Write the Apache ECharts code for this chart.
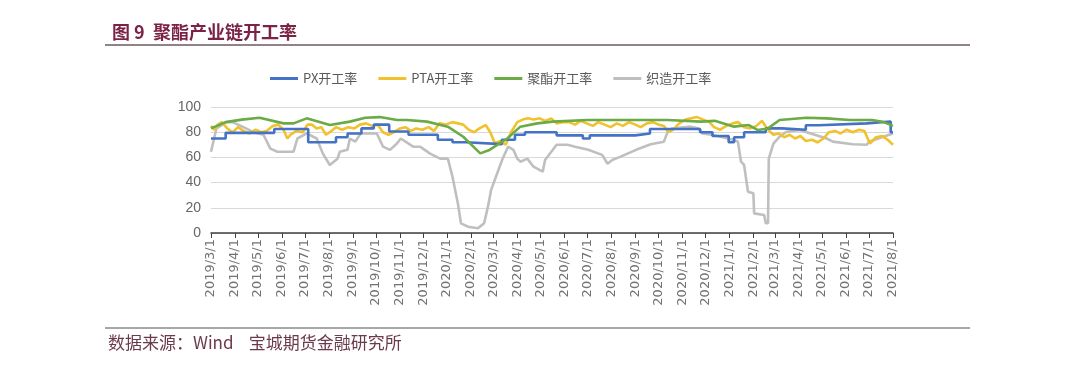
<!DOCTYPE html>
<html>
<head>
<meta charset="utf-8">
<script src="https://cdn.jsdelivr.net/npm/echarts@6/dist/echarts.min.js"></script>
<style>
html,body{margin:0;padding:0;background:#fff;}
#c{width:1068px;height:372px;}
</style>
</head>
<body>
<div id="c"></div>
<script>
// ---- data ----
const seriesNames = ['PX开工率', 'PTA开工率', '聚酯开工率', '织造开工率'];
const yTicks = [0, 20, 40, 60, 80, 100];
const xStart = '2019-03-01';
const xEnd = '2021-08-01';

// PX (step changes)
const pxDates = ['2019-03-01','2019-03-20','2019-05-22','2019-07-05','2019-08-10','2019-08-25','2019-09-12','2019-09-28','2019-10-18','2019-11-12','2019-12-20','2020-01-08','2020-01-25','2020-03-12','2020-03-29','2020-04-11','2020-05-22','2020-06-25','2020-07-04','2020-09-01','2020-09-20','2020-11-24','2020-12-10','2020-12-31','2021-01-07','2021-01-20','2021-02-17','2021-03-10','2021-04-10','2021-04-27','2021-06-28','2021-07-29','2021-08-01'];
const pxValues = [75,79.5,82.5,72,76,79,83,86,80.5,78,74,72,70.5,74,78,80,77.5,75,77.5,79,82.5,80,77,72,76,80,83,82,85.5,87,88.5,80,80];

// PTA
const ptaDates = ['2019-03-01','2019-03-05','2019-03-10','2019-03-15','2019-03-22','2019-03-29','2019-04-05','2019-04-12','2019-04-20','2019-04-28','2019-05-05','2019-05-12','2019-05-20','2019-05-27','2019-06-03','2019-06-08','2019-06-12','2019-06-20','2019-06-28','2019-07-04','2019-07-10','2019-07-16','2019-07-22','2019-07-28','2019-08-02','2019-08-10','2019-08-18','2019-08-26','2019-09-03','2019-09-10','2019-09-18','2019-09-26','2019-10-03','2019-10-10','2019-10-17','2019-10-24','2019-11-01','2019-11-08','2019-11-15','2019-11-22','2019-11-30','2019-12-08','2019-12-15','2019-12-22','2019-12-30','2020-01-08','2020-01-15','2020-01-22','2020-01-29','2020-02-05','2020-02-12','2020-02-20','2020-02-26','2020-03-03','2020-03-10','2020-03-17','2020-03-24','2020-04-01','2020-04-08','2020-04-15','2020-04-22','2020-04-30','2020-05-07','2020-05-15','2020-05-22','2020-05-30','2020-06-07','2020-06-15','2020-06-22','2020-06-30','2020-07-08','2020-07-15','2020-07-23','2020-07-31','2020-08-08','2020-08-16','2020-08-24','2020-09-01','2020-09-08','2020-09-16','2020-09-24','2020-10-01','2020-10-08','2020-10-14','2020-10-20','2020-10-28','2020-11-05','2020-11-12','2020-11-20','2020-11-28','2020-12-06','2020-12-12','2020-12-20','2020-12-28','2021-01-05','2021-01-12','2021-01-20','2021-01-28','2021-02-05','2021-02-12','2021-02-20','2021-02-27','2021-03-06','2021-03-13','2021-03-20','2021-03-27','2021-04-03','2021-04-10','2021-04-18','2021-04-25','2021-05-03','2021-05-10','2021-05-18','2021-05-25','2021-06-02','2021-06-10','2021-06-18','2021-06-25','2021-07-02','2021-07-10','2021-07-18','2021-07-25','2021-08-01'];
const ptaValues = [85,82,86,88,83,80,84,81,79,82,80,81,85,86,82,75,78,81,80,86,86,83,84,78,80,84,82,84,83,86,87,85,86,80,78,80,83,84,81,83,82,84,81,87,86,88,87,86,82,80,83,85.7,80,71,73,70,80,88,90,91,90,91,89,91,87,88,88,86,89,87,85,88,86,84,87,85,88,86,84,87,88,86,85,80,82,87,90,91,92,90,88,84,82,85,87,88,84,83,85,89,82,78,79,76,78,75,77,73,74,72,75,80,81,79,82,80,82,81,71,76,77,74,70];

// 聚酯
const polyDates = ['2019-03-01','2019-03-20','2019-04-10','2019-05-03','2019-06-03','2019-06-16','2019-07-03','2019-08-02','2019-08-28','2019-09-17','2019-10-06','2019-10-28','2019-11-10','2019-12-06','2020-01-02','2020-01-22','2020-02-13','2020-02-25','2020-03-19','2020-04-05','2020-04-27','2020-05-17','2020-07-01','2020-08-25','2020-10-13','2020-11-25','2020-12-13','2021-01-07','2021-01-26','2021-02-07','2021-02-20','2021-03-07','2021-04-11','2021-05-07','2021-06-06','2021-07-05','2021-07-20','2021-08-01'];
const polyValues = [83,88,90,91.5,87,87,91,85.7,88.4,91.5,92,89.7,89.7,88.4,84.4,76.4,63.2,65.9,75,84.4,87,88.4,89.7,89.7,89.7,88.4,89,84.4,85.7,81.7,83,89.7,91.5,91,89.7,89.7,88,85];

// 织造
const weaveDates = ['2019-03-01','2019-03-08','2019-03-21','2019-03-29','2019-04-12','2019-04-25','2019-05-08','2019-05-17','2019-05-26','2019-06-16','2019-06-21','2019-07-03','2019-07-16','2019-07-24','2019-08-02','2019-08-12','2019-08-15','2019-08-25','2019-08-28','2019-09-04','2019-09-11','2019-10-02','2019-10-10','2019-10-19','2019-10-28','2019-11-02','2019-11-18','2019-11-27','2019-12-10','2019-12-23','2020-01-02','2020-01-08','2020-01-15','2020-01-19','2020-01-28','2020-02-10','2020-02-18','2020-02-23','2020-02-27','2020-03-06','2020-03-13','2020-03-20','2020-03-27','2020-04-01','2020-04-05','2020-04-14','2020-04-22','2020-05-04','2020-05-07','2020-05-22','2020-06-05','2020-06-15','2020-07-02','2020-07-20','2020-07-27','2020-08-02','2020-08-13','2020-09-02','2020-09-21','2020-10-08','2020-10-13','2020-10-19','2020-11-12','2020-11-22','2020-11-27','2020-12-11','2020-12-30','2021-01-07','2021-01-12','2021-01-16','2021-01-20','2021-01-25','2021-02-01','2021-02-02','2021-02-15','2021-02-17','2021-02-20','2021-02-21','2021-02-27','2021-03-07','2021-03-16','2021-04-02','2021-05-07','2021-05-15','2021-06-10','2021-06-28','2021-07-01','2021-07-27','2021-08-01'];
const weaveValues = [64.5,83,88,88,84,80,78,67,64.5,64.5,75,79,75,63,54,59,64.5,66,75,72.5,79,79,68.5,66,71,75,68.5,68.5,63,59,59,44.7,23.5,7.7,5,3.7,7.7,20.9,34,47.4,59,68.5,66,59,56.6,59,52.6,48.7,58,70,70,68.5,66,62,55,58,60.6,66,70.4,72.5,80.4,83,84.4,83,79,77.8,75,73.8,72.5,56.6,54,32.8,31.5,15.6,14.3,7.7,7.7,59,71,76.5,80.4,81.7,75,72.5,70.4,70,72.5,78,79];

function zip(d, v) { return d.map((x, i) => [x, v[i]]); }

const colors = ['#4472C4', '#F2C12E', '#6AAB45', '#BFBFBF'];

const chart = echarts.init(document.getElementById('c'), null, {renderer: 'canvas'});
const lineW = 2.6;
chart.setOption({
  animation: false,
  backgroundColor: '#ffffff',
  color: colors,
  title: {
    text: '图 9  聚酯产业链开工率',
    left: 107, top: 18,
    textStyle: {color: '#7B2346', fontSize: 18, fontWeight: 'bold', fontFamily: 'Noto Sans CJK SC'}
  },
  legend: {
    left: 265, top: 67,
    icon: 'rect', itemWidth: 28, itemHeight: 3, itemGap: 21,
    textStyle: {color: '#595959', fontSize: 13, fontFamily: 'Noto Sans CJK SC'},
    data: seriesNames
  },
  graphic: [
    {type: 'line', shape: {x1: 105, y1: 45, x2: 970, y2: 45}, style: {stroke: '#6b5a60', lineWidth: 1.5}},
    {type: 'line', shape: {x1: 105, y1: 328, x2: 970, y2: 328}, style: {stroke: '#8a8a8a', lineWidth: 1.5}},
    {type: 'text', left: 108, top: 334, style: {text: '数据来源：Wind    宝城期货金融研究所', fill: '#6B3A4B', fontSize: 17, fontFamily: 'Noto Sans CJK SC'}}
  ],
  grid: {left: 211, right: 175, top: 107, bottom: 139},
  xAxis: {
    type: 'time',
    min: xStart, max: xEnd,
    splitNumber: 29,
    minInterval: 28 * 86400000,
    maxInterval: 31 * 86400000,
    axisLine: {lineStyle: {color: '#404040', width: 1.5}},
    axisTick: {show: true, length: 5, lineStyle: {color: '#404040'}},
    splitLine: {show: false},
    axisLabel: {
      rotate: 90, fontSize: 13, color: '#737373', margin: 6,
      fontFamily: 'DejaVu Sans',
      hideOverlap: false,
      formatter: function (v) {
        const d = new Date(v);
        return d.getFullYear() + '/' + (d.getMonth() + 1) + '/' + d.getDate();
      }
    }
  },
  yAxis: {
    type: 'value',
    min: yTicks[0], max: yTicks[yTicks.length - 1], interval: 20,
    axisLine: {show: false},
    axisTick: {show: false},
    splitLine: {lineStyle: {color: '#D9D9D9', width: 1}},
    axisLabel: {color: '#666666', fontSize: 14, margin: 10, fontFamily: 'Liberation Sans'}
  },
  series: [
    {name: seriesNames[0], type: 'line', step: 'end', showSymbol: false, data: zip(pxDates, pxValues), lineStyle: {width: lineW, color: colors[0]}, z: 3},
    {name: seriesNames[1], type: 'line', showSymbol: false, data: zip(ptaDates, ptaValues), lineStyle: {width: lineW, color: colors[1]}, z: 2},
    {name: seriesNames[2], type: 'line', showSymbol: false, data: zip(polyDates, polyValues), lineStyle: {width: lineW, color: colors[2]}, z: 4},
    {name: seriesNames[3], type: 'line', showSymbol: false, data: zip(weaveDates, weaveValues), lineStyle: {width: lineW, color: colors[3]}, z: 1}
  ]
});
</script>
</body>
</html>
